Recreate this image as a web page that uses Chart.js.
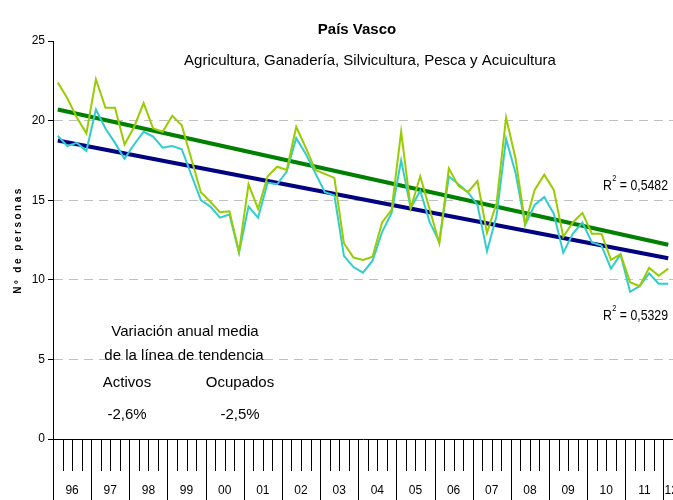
<!DOCTYPE html>
<html>
<head>
<meta charset="utf-8">
<script src="https://cdn.jsdelivr.net/npm/chart.js@4.4.0/dist/chart.umd.min.js"></script>
<style>
  body { margin: 0; background: #fff; }
</style>
</head>
<body>
<canvas id="grafico1" width="673" height="500"></canvas>
<script>
const fuente = "Arial, 'Liberation Sans', sans-serif";

// años del eje (el último solo tiene el primer trimestre)
const years = ["96", "97", "98", "99", "00", "01", "02", "03", "04", "05", "06", "07", "08", "09", "10", "11", "12"];

// miles de personas, datos trimestrales 1996T1 - 2012T1
const activos = [
  22.4, 21.4, 20.2, 19.2, 22.6, 20.8, 20.8, 18.5, 19.6, 21.1,
  19.5, 19.3, 20.3, 19.7, 17.6, 15.5, 14.9, 14.25, 14.3, 11.75,
  16.0, 14.45, 16.5, 17.1, 16.9, 19.6, 18.3, 16.9, 16.65, 16.4,
  12.3, 11.4, 11.25, 11.45, 13.6, 14.4, 19.3, 14.5, 16.5, 14.4,
  12.3, 17.0, 15.9, 15.5, 16.2, 12.95, 14.8, 20.2, 17.6, 13.5,
  15.65, 16.6, 15.65, 12.7, 13.6, 14.2, 12.9, 12.9, 11.25, 11.6,
  9.85, 9.6, 10.75, 10.25, 10.7
];
const ocupados = [
  19.05, 18.4, 18.6, 18.1, 20.7, 19.5, 18.6, 17.6, 18.5, 19.3,
  19.0, 18.3, 18.4, 18.2, 16.6, 15.0, 14.6, 13.9, 14.1, 11.7,
  14.6, 13.9, 16.1, 16.0, 16.8, 18.9, 17.9, 16.7, 15.5, 15.3,
  11.5, 10.8, 10.45, 11.2, 13.0, 14.2, 17.5, 14.5, 15.6, 13.6,
  12.4, 16.5, 16.0, 15.5, 14.7, 11.8, 14.0, 18.85, 16.7, 13.45,
  14.7, 15.2, 14.15, 11.7, 12.9, 13.6, 12.35, 12.15, 10.7, 11.6,
  9.25, 9.6, 10.4, 9.75, 9.75
];

// líneas de tendencia: valor al inicio y al final
const tendActivos = [20.7, 12.2];
const tendOcupados = [18.75, 11.35];

const yMax = 25;
const yStep = 5;
const r2Activos = "0,5482";
const r2Ocupados = "0,5329";
const varActivos = "-2,6%";
const varOcupados = "-2,5%";

// etiquetas trimestrales
const quarters = [];
years.forEach((y) => {
  for (let q = 1; q <= 4; q++) quarters.push(y + "T" + q);
});
quarters.length = activos.length;

// la recta solo tiene los dos extremos; el resto queda vacío (spanGaps)
function recta(ext) {
  const d = new Array(quarters.length).fill(null);
  d[0] = ext[0];
  d[quarters.length - 1] = ext[1];
  return d;
}

const textos = {
  id: "textos",
  afterDraw(chart) {
    const { ctx, chartArea, scales } = chart;
    const x = scales.x;
    const n = quarters.length;
    const half = (x.getPixelForValue(1) - x.getPixelForValue(0)) / 2;
    const borde = (i) => (i < n ? x.getPixelForValue(i) - half : x.getPixelForValue(n - 1) + half);
    const base = chartArea.bottom;

    ctx.save();
    // marcas del eje X: trimestres cortas, años hasta abajo
    ctx.strokeStyle = "#000";
    ctx.lineWidth = 1;
    for (let i = 0; i <= n; i++) {
      const px = Math.round(borde(i)) + 0.5;
      ctx.beginPath();
      ctx.moveTo(px, base);
      ctx.lineTo(px, i % 4 === 0 ? 500 : base + 32);
      ctx.stroke();
    }
    // etiquetas de año
    ctx.fillStyle = "#000";
    ctx.font = "12px " + fuente;
    ctx.textAlign = "center";
    ctx.textBaseline = "middle";
    years.forEach((y, k) => {
      const ini = 4 * k;
      if (ini >= n) return;
      const fin = Math.min(ini + 3, n - 1);
      const w = ctx.measureText(y).width;
      const cx = Math.max((borde(ini) + borde(fin + 1)) / 2, borde(ini) + 1 + w / 2);
      ctx.fillText(y, cx, 491);
    });

    // títulos
    ctx.font = "bold 15px " + fuente;
    ctx.fillText("País Vasco", 357, 30);
    ctx.font = "15px " + fuente;
    ctx.fillText("Agricultura, Ganadería, Silvicultura, Pesca y Acuicultura", 370, 61);

    // título eje Y
    ctx.save();
    ctx.translate(18, 240);
    ctx.rotate(-Math.PI / 2);
    ctx.font = "bold 10px " + fuente;
    if ("letterSpacing" in ctx) ctx.letterSpacing = "2.5px";
    ctx.fillText("Nº de personas", 0, 0);
    ctx.restore();

    // R cuadrado (texto algo estrecho, como en el original)
    const r2 = (valor, px, py) => {
      ctx.save();
      ctx.translate(px, py);
      ctx.scale(0.82, 1);
      ctx.textAlign = "left";
      ctx.textBaseline = "alphabetic";
      ctx.font = "15px " + fuente;
      ctx.fillText("R", 0, 0);
      let cx = ctx.measureText("R").width;
      ctx.font = "9px " + fuente;
      ctx.fillText("2", cx + 0.5, -9);
      cx += ctx.measureText("2").width + 0.5;
      ctx.font = "15px " + fuente;
      ctx.fillText(" = " + valor, cx, 0);
      ctx.restore();
    };
    r2(r2Activos, 603, 190);
    r2(r2Ocupados, 603, 320);

    // recuadro de variación anual
    ctx.textAlign = "center";
    ctx.textBaseline = "middle";
    ctx.font = "15px " + fuente;
    ctx.fillText("Variación anual media", 185, 332);
    ctx.fillText("de la línea de tendencia", 184, 356);
    ctx.fillText("Activos", 127, 383);
    ctx.fillText("Ocupados", 240, 383);
    ctx.fillText(varActivos, 127, 415);
    ctx.fillText(varOcupados, 240, 415);
    ctx.restore();
  },
};

const ctx = document.getElementById("grafico1");

new Chart(ctx, {
  type: "line",
  data: {
    labels: quarters,
    datasets: [
      { label: "Activos", data: activos, borderColor: "#99CC00", borderWidth: 2, pointRadius: 0, tension: 0 },
      { label: "Ocupados", data: ocupados, borderColor: "#33CCCC", borderWidth: 2, pointRadius: 0, tension: 0 },
      { label: "Tendencia activos", data: recta(tendActivos), borderColor: "#008000", borderWidth: 4, pointRadius: 0, spanGaps: true },
      { label: "Tendencia ocupados", data: recta(tendOcupados), borderColor: "#000080", borderWidth: 4, pointRadius: 0, spanGaps: true },
    ],
  },
  options: {
    responsive: false,
    animation: false,
    layout: { padding: { top: 41, right: 0, left: 0, bottom: 0 } },
    plugins: { legend: { display: false }, tooltip: { enabled: false } },
    scales: {
      x: {
        type: "category",
        offset: true,
        ticks: { display: false },
        grid: { display: false },
        border: { display: true, color: "#000", width: 1 },
        afterFit(s) { s.height = 61; },
      },
      y: {
        min: 0,
        max: yMax,
        ticks: { stepSize: yStep, color: "#000", padding: 3, font: { family: fuente, size: 12 } },
        grid: {
          color: (c) => (c.tick && (c.tick.value === 0 || c.tick.value === yMax) ? "rgba(0,0,0,0)" : "#C0C0C0"),
          tickColor: "#000",
          tickLength: 5,
          lineWidth: 1,
        },
        border: { display: true, color: "#000", width: 1, dash: [9, 6] },
        afterFit(s) { s.width = 53; },
      },
    },
  },
  plugins: [textos],
});
</script>
</body>
</html>
